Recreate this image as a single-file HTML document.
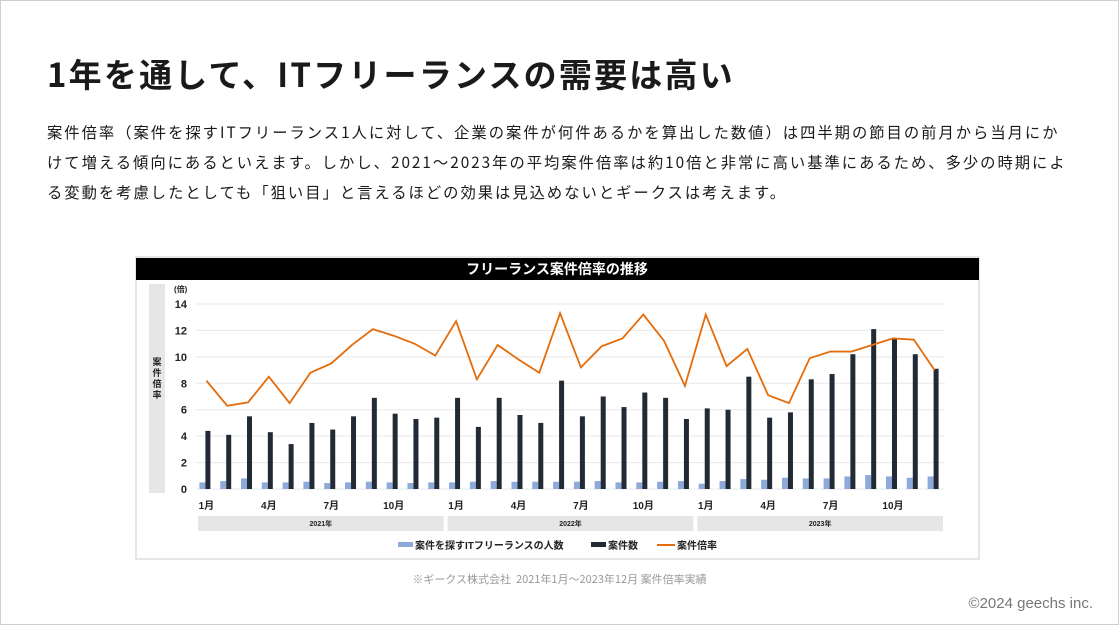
<!DOCTYPE html>
<html><head><meta charset="utf-8">
<style>
body{margin:0;background:#fff;}
#page{position:relative;width:1117px;height:623px;border:1px solid #cfcfcf;overflow:hidden;font-family:"Liberation Sans","Noto Sans CJK JP",sans-serif;color:#1a1a1a;}
h1{position:absolute;left:46px;top:48px;margin:0;font-size:33px;font-weight:bold;letter-spacing:2.2px;font-family:"Noto Sans CJK JP",sans-serif;white-space:nowrap;}
.p{position:absolute;left:46px;font-size:15.3px;letter-spacing:2px;white-space:nowrap;font-family:"Noto Sans CJK JP",sans-serif;}
#copy{position:absolute;right:25px;top:594px;font-size:15px;color:#777;}
#src{position:absolute;left:0;width:1117px;text-align:center;top:570px;font-size:11px;color:#999;font-family:"Noto Sans CJK JP",sans-serif;}
</style></head><body>
<div id="page">
<h1>1年を通して、ITフリーランスの需要は高い</h1>
<div class="p" style="top:120px">案件倍率（案件を探すITフリーランス1人に対して、企業の案件が何件あるかを算出した数値）は四半期の節目の前月から当月にか</div>
<div class="p" style="top:150px">けて増える傾向にあるといえます。しかし、2021〜2023年の平均案件倍率は約10倍と非常に高い基準にあるため、多少の時期によ</div>
<div class="p" style="top:180px">る変動を考慮したとしても「狙い目」と言えるほどの効果は見込めないとギークスは考えます。</div>
<svg id="chart" style="position:absolute;left:0;top:0" width="1117" height="623"></svg>
<div id="src">※ギークス株式会社&nbsp;&nbsp;2021年1月〜2023年12月 案件倍率実績</div>
<div id="copy">©2024 geechs inc.</div>
</div>
<script>
const months=["1月","","","4月","","","7月","","","10月","","","1月","","","4月","","","7月","","","10月","","","1月","","","4月","","","7月","","","10月","",""];
const years=["2021年","2022年","2023年"];
const seekers=[0.5,0.6,0.8,0.5,0.5,0.55,0.45,0.5,0.55,0.5,0.45,0.5,0.5,0.55,0.6,0.55,0.55,0.55,0.55,0.6,0.5,0.5,0.55,0.6,0.4,0.6,0.75,0.7,0.85,0.8,0.8,0.95,1.05,0.95,0.85,0.95];
const jobs=[4.4,4.1,5.5,4.3,3.4,5.0,4.5,5.5,6.9,5.7,5.3,5.4,6.9,4.7,6.9,5.6,5.0,8.2,5.5,7.0,6.2,7.3,6.9,5.3,6.1,6.0,8.5,5.4,5.8,8.3,8.7,10.2,12.1,11.4,10.2,9.1];
const ratio=[8.2,6.3,6.55,8.5,6.5,8.8,9.5,10.9,12.1,11.6,11.0,10.1,12.7,8.3,10.9,9.8,8.8,13.3,9.2,10.8,11.4,13.2,11.2,7.8,13.2,9.3,10.6,7.1,6.5,9.9,10.4,10.4,10.9,11.4,11.3,9.0];
const yTicks=[0,2,4,6,8,10,12,14];

const svg=document.getElementById('chart');const NS='http://www.w3.org/2000/svg';
function mk(t,a,txt){const e=document.createElementNS(NS,t);for(const k in a)e.setAttribute(k,a[k]);if(txt!=null)e.textContent=txt;svg.appendChild(e);return e;}
const X0=195,X1=944,Y0=488,Y14=303;
const slot=(X1-X0)/months.length;
const y=v=>Y0-(v/14)*(Y0-Y14);
const xc=i=>X0+slot*(i+0.5);
const F='"Liberation Sans","Noto Sans CJK JP",sans-serif';
let e;
e=mk('rect',{x:135,y:256,width:843,height:302,fill:'#fff',stroke:'#ccc'});

e=mk('rect',{x:135,y:257,width:843,height:22,fill:'#000'});

e=mk('text',{x:556,y:273,'text-anchor':'middle',fill:'#fff','font-size':14,'font-weight':'bold','font-family':F},'フリーランス案件倍率の推移');

e=mk('rect',{x:148,y:283,width:16,height:209,fill:'#e6e6e6'});

['案','件','倍','率'].forEach((c,i)=>{e=mk('text',{x:156,y:364+i*11,'text-anchor':'middle','font-size':9,'font-weight':'bold','font-family':F,fill:'#222'},c);
});
e=mk('text',{x:173,y:291,'font-size':8,'font-weight':'bold','font-family':F,fill:'#222'},'(倍)');

yTicks.forEach(t=>{
 e=mk('line',{x1:X0,x2:X1,y1:y(t),y2:y(t),stroke:'#e8e8e8','stroke-width':1});
 
 e=mk('text',{x:186,y:y(t)+4,'text-anchor':'end','font-size':11,'font-weight':'bold','font-family':F,fill:'#222'},t);
 
});
months.forEach((m,i)=>{
 e=mk('rect',{x:xc(i)-7,y:y(seekers[i]),width:6,height:Y0-y(seekers[i]),fill:'#8eaadb'});
 
 e=mk('rect',{x:xc(i)-1,y:y(jobs[i]),width:5,height:Y0-y(jobs[i]),fill:'#222a35'});
 
 if(m){e=mk('text',{x:xc(i),y:508,'text-anchor':'middle','font-size':10,'font-weight':'bold','font-family':F,fill:'#222'},m);
 }
});
e=mk('polyline',{points:ratio.map((v,i)=>xc(i)+','+y(v)).join(' '),fill:'none',stroke:'#e46c0a','stroke-width':1.8});

years.forEach((yr,k)=>{
 const a=X0+slot*12*k+2,w=slot*12-4;
 e=mk('rect',{x:a,y:515,width:w,height:15,fill:'#e6e6e6'});
 
 e=mk('text',{x:a+w/2,y:525,'text-anchor':'middle','font-size':7,'font-weight':'bold','font-family':F,fill:'#222'},yr);
 
});
const L=[[397,'rect','#8eaadb','案件を探すITフリーランスの人数'],[590,'rect','#222a35','案件数'],[656,'line','#e46c0a','案件倍率']];
L.forEach(l=>{
 if(l[1]=='rect'){e=mk('rect',{x:l[0],y:541,width:15,height:5,fill:l[2]});}
 else{e=mk('line',{x1:l[0],x2:l[0]+18,y1:544,y2:544,stroke:l[2],'stroke-width':2});}
 
 e=mk('text',{x:l[0]+(l[1]=='rect'?17:20),y:548,'font-size':10,'font-weight':'bold','font-family':F,fill:'#222'},l[3]);
 
});
</script>
</body></html>
